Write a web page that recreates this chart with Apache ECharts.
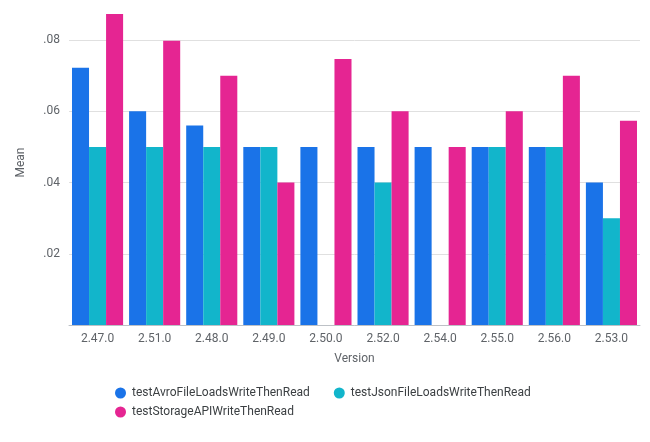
<!DOCTYPE html>
<html><head><meta charset="utf-8">
<script src="https://cdn.jsdelivr.net/npm/echarts@6/dist/echarts.min.js"></script>
<style>html,body{margin:0;padding:0;background:#fff}#c{width:650px;height:442px}</style>
</head><body><div id="c"></div>
<script>
const categories = ['2.47.0','2.51.0','2.48.0','2.49.0','2.50.0','2.52.0','2.54.0','2.55.0','2.56.0','2.53.0'];
const avro = [0.0722, 0.06, 0.056, 0.05, 0.05, 0.05, 0.05, 0.05, 0.05, 0.04];
const json = [0.05, 0.05, 0.05, 0.05, null, 0.04, null, 0.05, 0.05, 0.03];
const storage = [0.0873, 0.0798, 0.07, 0.04, 0.0747, 0.06, 0.05, 0.06, 0.07, 0.0573];
const seriesNames = ['testAvroFileLoadsWriteThenRead','testJsonFileLoadsWriteThenRead','testStorageAPIWriteThenRead'];
const colors = ['#1a73e8','#12b5cb','#e52592'];

const chart = echarts.init(document.getElementById('c'));
const font = 'Roboto, sans-serif';
const legendBase = {
  icon: 'circle', itemWidth: 13, itemHeight: 11, itemGap: 24, orient: 'horizontal',
  textStyle: {fontSize: 12, color: '#3c4043', fontFamily: font}
};
chart.setOption({
  animation: false,
  textStyle: {fontFamily: font},
  color: colors,
  grid: {left: 69, right: 10, top: 40, bottom: 117, containLabel: false},
  legend: [
    Object.assign({left: 110, top: 382, data: [seriesNames[0], seriesNames[1]]}, legendBase),
    Object.assign({left: 110, top: 401, data: [seriesNames[2]]}, legendBase)
  ],
  xAxis: {
    type: 'category', data: categories,
    name: 'Version', nameLocation: 'middle', nameGap: 28,
    nameTextStyle: {fontSize: 12, color: '#5f6368'},
    axisLine: {lineStyle: {color: '#bdc1c6'}},
    axisTick: {show: false},
    axisLabel: {fontSize: 12, color: '#5f6368', margin: 8}
  },
  yAxis: {
    type: 'value', min: 0, max: 0.08, interval: 0.02,
    name: 'Mean', nameLocation: 'middle', nameGap: 42,
    nameTextStyle: {fontSize: 12, color: '#5f6368', padding: [0, 0, 0, 40]},
    axisLine: {show: false},
    axisTick: {show: false},
    axisLabel: {fontSize: 12, color: '#5f6368', margin: 9, showMinLabel: false,
      formatter: v => v === 0 ? '' : ('' + +v.toFixed(2)).replace(/^0/, '')},
    splitLine: {lineStyle: {color: '#e0e0e0'}}
  },
  series: [
    {name: seriesNames[0], type: 'bar', data: avro, barGap: 0, barCategoryGap: '10.5%', clip: false},
    {name: seriesNames[1], type: 'bar', data: json, barGap: 0, barCategoryGap: '10.5%', clip: false},
    {name: seriesNames[2], type: 'bar', data: storage, barGap: 0, barCategoryGap: '10.5%', clip: false}
  ]
});
</script></body></html>
